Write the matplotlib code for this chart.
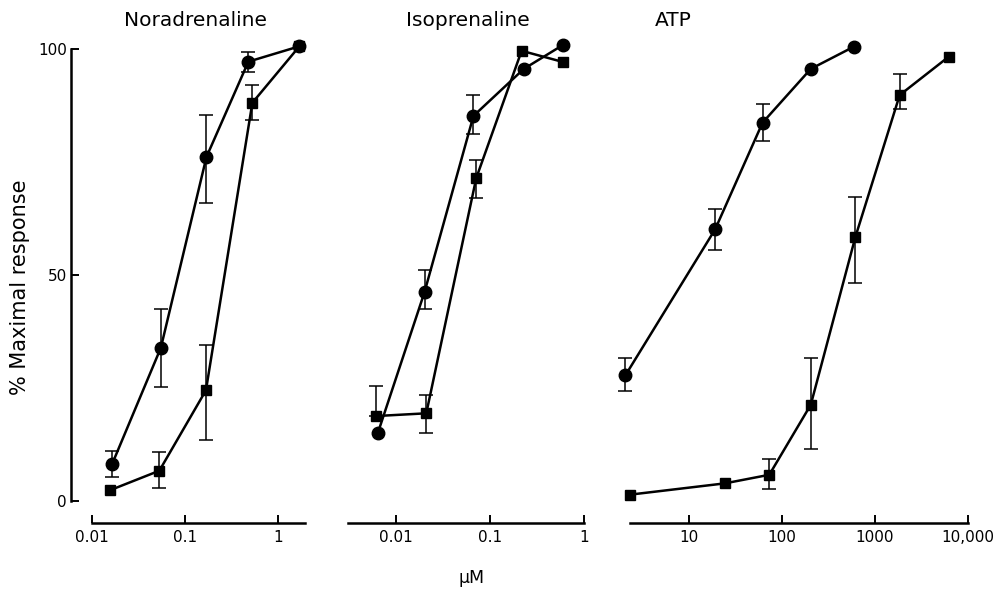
import numpy as np
import matplotlib
matplotlib.use("Agg")
import matplotlib.pyplot as plt

plt.rcParams['font.family'] = ['DejaVu Sans']

# ---------------- data ----------------
# Noradrenaline
na_circ_x = [0.0164, 0.055, 0.17, 0.48, 1.7]
na_circ_y = [8.1, 33.9, 76.1, 97.2, 100.6]
na_circ_lo = [5.4, 25.3, 65.9, 95.0, np.nan]
na_circ_hi = [11.1, 42.5, 85.5, 99.4, np.nan]
na_sq_x = [0.0157, 0.053, 0.168, 0.53, 1.7]
na_sq_y = [2.4, 6.7, 24.5, 88.1, 100.6]
na_sq_lo = [np.nan, 2.9, 13.6, 84.2, np.nan]
na_sq_hi = [np.nan, 10.8, 34.6, 92.0, np.nan]

# Isoprenaline
iso_circ_x = [0.0064, 0.0201, 0.0667, 0.229, 0.598]
iso_circ_y = [15.0, 46.2, 85.2, 95.6, 100.9]
iso_circ_lo = [np.nan, 42.5, 81.2, np.nan, np.nan]
iso_circ_hi = [np.nan, 51.0, 89.8, np.nan, np.nan]
iso_sq_x = [0.0062, 0.021, 0.0713, 0.217, 0.604]
iso_sq_y = [18.8, 19.4, 71.4, 99.6, 97.1]
iso_sq_lo = [18.8, 15.0, 67.0, np.nan, np.nan]
iso_sq_hi = [25.5, 23.4, 75.5, np.nan, np.nan]

# ATP
atp_circ_x = [2.07, 19.1, 61.8, 204, 591]
atp_circ_y = [27.8, 60.1, 83.7, 95.6, 100.5]
atp_circ_lo = [24.3, 55.6, 79.6, np.nan, np.nan]
atp_circ_hi = [31.6, 64.7, 87.9, np.nan, np.nan]
atp_sq_x = [2.31, 24.3, 73, 204, 615, 1842, 6210]
atp_sq_y = [1.4, 3.9, 5.8, 21.3, 58.4, 89.8, 98.3]
atp_sq_lo = [np.nan, np.nan, 2.7, 11.5, 48.3, 86.7, np.nan]
atp_sq_hi = [np.nan, np.nan, 9.4, 31.7, 67.3, 94.4, np.nan]

titles = ["Noradrenaline", "Isoprenaline", "ATP"]
x_ticks = [[0.01, 0.1, 1], [0.01, 0.1, 1], [10, 100, 1000, 10000]]
x_ticklabels = [["0.01", "0.1", "1"], ["0.01", "0.1", "1"], ["10", "100", "1000", "10,000"]]
y_ticks = [0, 50, 100]
y_ticklabels = ["0", "50", "100"]

# ---------------- layout (pixels) ----------------
W, H = 995, 594
DPI = 100
fig = plt.figure(figsize=(W / DPI, H / DPI), dpi=DPI)

Y0PX, Y100PX = 501, 49
# (axes left px, axes right px, reference tick value, its px, px per decade, spine-left value or None, spine-right value)
panels = [
    (71, 310, 0.01, 92, 93, 0.01, 1.95),
    (348, 590, 0.01, 396, 94, None, 1.0),
    (630, 975, 10, 689, 93, None, 10000),
]
title_pos = [196, 468, 673]

series = [
    ((na_circ_x, na_circ_y, na_circ_lo, na_circ_hi), (na_sq_x, na_sq_y, na_sq_lo, na_sq_hi)),
    ((iso_circ_x, iso_circ_y, iso_circ_lo, iso_circ_hi), (iso_sq_x, iso_sq_y, iso_sq_lo, iso_sq_hi)),
    ((atp_circ_x, atp_circ_y, atp_circ_lo, atp_circ_hi), (atp_sq_x, atp_sq_y, atp_sq_lo, atp_sq_hi)),
]

def draw_series(ax, x, y, lo, hi, marker, ms):
    x = np.asarray(x, float); y = np.asarray(y, float)
    lo = np.asarray(lo, float); hi = np.asarray(hi, float)
    m = ~np.isnan(lo)
    if m.any():
        ax.errorbar(x[m], y[m], yerr=[y[m] - lo[m], hi[m] - y[m]], fmt='none',
                    ecolor='black', elinewidth=1.1, capsize=5, capthick=1.1,
                    clip_on=False, zorder=2)
    ax.plot(x, y, color='black', lw=1.8, marker=marker, ms=ms,
            mfc='black', mec='black', clip_on=False, zorder=3)

for i, (lpx, rpx, rv, rpx_ref, dec, sl, sr) in enumerate(panels):
    ax = fig.add_axes([lpx / W, (H - Y0PX) / H, (rpx - lpx) / W, (Y0PX - Y100PX) / H])
    ax.set_xscale('log')
    xl = 10 ** (np.log10(rv) + (lpx - rpx_ref) / dec)
    xr = 10 ** (np.log10(rv) + (rpx - rpx_ref) / dec)
    ax.set_xlim(xl, xr)
    ax.set_ylim(0, 100)
    ax.patch.set_alpha(0)

    (cx, cy, clo, chi), (sx, sy, slo, shi) = series[i]
    draw_series(ax, sx, sy, slo, shi, 's', 7.5)
    draw_series(ax, cx, cy, clo, chi, 'o', 9)

    for s in ['top', 'right']:
        ax.spines[s].set_visible(False)
    ax.spines['bottom'].set_position(('outward', 22 * 72 / DPI))
    ax.spines['bottom'].set_linewidth(1.8)
    ax.spines['bottom'].set_bounds(sl if sl is not None else xl, sr)
    ax.set_xticks(x_ticks[i])
    ax.set_xticklabels(x_ticklabels[i])
    ax.xaxis.set_minor_locator(matplotlib.ticker.NullLocator())
    ax.tick_params(axis='x', direction='in', length=6, width=1.4, pad=5,
                   labelsize=11)
    if i == 0:
        ax.spines['left'].set_linewidth(1.8)
        ax.spines['left'].set_bounds(0, 100)
        ax.set_yticks(y_ticks)
        ax.set_yticklabels(y_ticklabels)
        ax.tick_params(axis='y', direction='in', length=6, width=1.4, pad=3,
                       labelsize=11)
    else:
        ax.spines['left'].set_visible(False)
        ax.set_yticks([])

    fig.text(title_pos[i] / W, 1 - 21 / H, titles[i], ha='center', va='center',
             fontsize=14.5)

fig.text(20 / W, 1 - 287 / H, "% Maximal response", rotation=90,
         ha='center', va='center', fontsize=15)
fig.text(472 / W, 1 - 578 / H, "µM", ha='center', va='center', fontsize=12.5)

fig.savefig("out.png", dpi=DPI, facecolor='white')
